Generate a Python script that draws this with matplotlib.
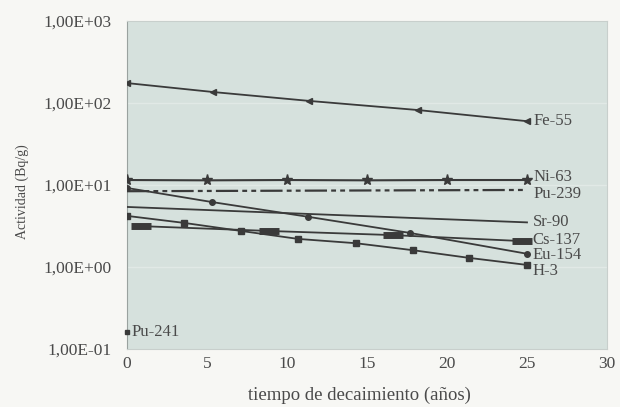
import matplotlib
matplotlib.use("Agg")
import matplotlib.pyplot as plt
from matplotlib.ticker import FuncFormatter, FixedLocator

plt.rcParams['font.family'] = ['Liberation Serif', 'DejaVu Serif']
plt.rcParams['lines.scale_dashes'] = False

# Data (years, Bq/g)
fe55_t = [0, 5.4, 11.4, 18.2, 25]
fe55_v = [175, 136, 106, 82, 60]

ni63_t = [0, 5, 10, 15, 20, 25]
ni63_v = [11.5, 11.4, 11.5, 11.4, 11.5, 11.5]

pu239_t = [0, 25]
pu239_v = [8.4, 8.7]

sr90_t = [0, 25]
sr90_v = [5.4, 3.5]

cs137_t = [0.9, 8.9, 16.6, 24.7]
cs137_v = [3.15, 2.75, 2.45, 2.07]

eu154_t = [0, 5.3, 11.3, 17.7, 25]
eu154_v = [9.2, 6.2, 4.1, 2.6, 1.45]

h3_t = [0, 3.57, 7.14, 10.7, 14.3, 17.9, 21.4, 25]
h3_v = [4.2, 3.45, 2.75, 2.2, 1.95, 1.6, 1.29, 1.06]

pu241_t = [0]
pu241_v = [0.16]

x_ticks = [0, 5, 10, 15, 20, 25, 30]
y_ticks = [0.1, 1, 10, 100, 1000]

line_c = '#3a3a3a'
text_c = '#4a4a4a'

fig = plt.figure(figsize=(6.2, 4.07), dpi=100)
fig.patch.set_facecolor('#f7f7f4')
ax = fig.add_axes([127/620, 1-349/407, 480/620, 328/407])
ax.set_facecolor('#d6e1dd')
ax.set_yscale('log')
ax.set_xlim(0, 30)
ax.set_ylim(0.1, 1000)

for yv in [1, 10, 100]:
    ax.axhline(yv, color='#e1e9e6', lw=1.0, zorder=1)

ax.plot(fe55_t, fe55_v, color=line_c, lw=1.3, marker='<', ms=4.5, zorder=3)
ax.plot(ni63_t, ni63_v, color=line_c, lw=1.5, marker='*', ms=8, zorder=3)
ax.plot(pu239_t, pu239_v, color=line_c, lw=1.6, linestyle=(0, (16, 3, 3.5, 3, 3.5, 3)), zorder=3)
ax.plot(sr90_t, sr90_v, color=line_c, lw=1.3, zorder=3)
ax.plot(cs137_t, cs137_v, color=line_c, lw=1.3, marker='_', ms=14, mew=5, zorder=3)
ax.plot(eu154_t, eu154_v, color=line_c, lw=1.3, marker='o', ms=4, zorder=3)
ax.plot(h3_t, h3_v, color=line_c, lw=1.3, marker='s', ms=4.5, zorder=3)
ax.plot(pu241_t, pu241_v, color=line_c, lw=0, marker='s', ms=2.5, zorder=3, clip_on=False)

labels = [
    ('Fe-55', fe55_t, fe55_v, 5, 0),
    ('Ni-63', ni63_t, ni63_v, 5, 2),
    ('Pu-239', pu239_t, pu239_v, 5, -3),
    ('Sr-90', sr90_t, sr90_v, 4, 0),
    ('Cs-137', cs137_t, cs137_v, 7, 1),
    ('Eu-154', eu154_t, eu154_v, 4, -1),
    ('H-3', h3_t, h3_v, 4, -4.5),
]
for name, t, v, dx, dy in labels:
    ax.annotate(name, xy=(t[-1], v[-1]), xytext=(dx, dy), textcoords='offset points',
                ha='left', va='center', fontsize=12, color=text_c)
ax.annotate('Pu-241', xy=(pu241_t[0], pu241_v[0]), xytext=(3, 0), textcoords='offset points',
            ha='left', va='center', fontsize=12, color=text_c)

ax.xaxis.set_major_locator(FixedLocator(x_ticks))
ax.yaxis.set_major_locator(FixedLocator(y_ticks))
ax.yaxis.set_minor_locator(FixedLocator([]))
ax.yaxis.set_major_formatter(FuncFormatter(lambda v, p: f"{v:.2E}".replace('.', ',')))
ax.tick_params(axis='both', length=0, labelsize=12.5, labelcolor=text_c)
ax.tick_params(axis='y', pad=11)
ax.tick_params(axis='x', pad=5)

for s in ['top', 'right', 'bottom']:
    ax.spines[s].set_color('#c8cfcc')
ax.spines['left'].set_color('#9aa29f')

ax.set_ylabel('Actividad (Bq/g)', fontsize=10, color=text_c, va='center')
ax.yaxis.set_label_coords((22-127)/480, (349-192)/328)
ax.set_xlabel('tiempo de decaimiento (años)', fontsize=13.5, color=text_c, va='center')
ax.xaxis.set_label_coords(0.485, (349-395)/328)

fig.savefig('out.png', dpi=100, facecolor=fig.get_facecolor())
